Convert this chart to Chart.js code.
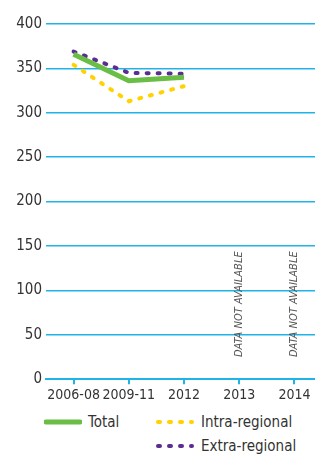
<!DOCTYPE html>
<html>
<head>
<meta charset="utf-8">
<script src="https://cdn.jsdelivr.net/npm/chart.js@4"></script>
<style>
    html, body { margin: 0; padding: 0; background: #fff; }
    body { width: 315px; height: 455px; overflow: hidden; position: relative;
           font-family: 'DejaVu Sans Condensed', 'Liberation Sans Narrow', sans-serif; color: #333; }
    #wrap { position: absolute; left: 0; top: 0; width: 322px; height: 410px; }
    .leg { position: absolute; font-size: 15px; line-height: 20px; display: flex; align-items: center; }
    .leg svg { margin-right: 6px; }
</style>
</head>
<body>
<div id="wrap"><canvas id="chart"></canvas></div>

<div class="leg" style="left:44px; top:412px;">
    <svg width="38" height="8"><line x1="2" y1="4" x2="36" y2="4" stroke="#6abd45" stroke-width="5" stroke-linecap="round"/></svg>Total
</div>
<div class="leg" style="left:155px; top:412px;">
    <svg width="40" height="8"><line x1="3" y1="4" x2="37" y2="4" stroke="#ffd200" stroke-width="4" stroke-linecap="round" stroke-dasharray="2 9"/></svg>Intra-regional
</div>
<div class="leg" style="left:155px; top:436px;">
    <svg width="40" height="8"><line x1="3" y1="4" x2="37" y2="4" stroke="#5c2d91" stroke-width="4" stroke-linecap="round" stroke-dasharray="2 9"/></svg>Extra-regional
</div>

<script>
// Data
const categories = ['2006-08', '2009-11', '2012', '2013', '2014'];
const totalValues = [366, 336, 340, null, null];
const intraValues = [354, 313, 330, null, null];
const extraValues = [369, 345, 344, null, null];
const yTicks = [0, 50, 100, 150, 200, 250, 300, 350, 400];
const notes = [null, null, null, 'DATA NOT AVAILABLE', 'DATA NOT AVAILABLE'];

const FONT = "'DejaVu Sans Condensed', 'Liberation Sans Narrow', sans-serif";
const GRID = '#1fb3e8';

// Draw rotated "not available" notes
const notesPlugin = {
    id: 'notes',
    afterDatasetsDraw(chart) {
        const ctx = chart.ctx;
        const x = chart.scales.x;
        const y = chart.scales.y;
        ctx.save();
        ctx.font = 'italic 11px ' + FONT;
        ctx.fillStyle = '#555';
        ctx.textAlign = 'left';
        ctx.textBaseline = 'middle';
        notes.forEach((note, i) => {
            if (!note) return;
            ctx.save();
            ctx.translate(x.getPixelForValue(i), y.getPixelForValue(25));
            ctx.rotate(-Math.PI / 2);
            ctx.fillText(note, 0, 0);
            ctx.restore();
        });
        ctx.restore();
    }
};

new Chart(document.getElementById('chart'), {
    type: 'line',
    data: {
        labels: categories,
        datasets: [
            {
                label: 'Total',
                data: totalValues,
                borderColor: '#6abd45',
                borderWidth: 5,
                pointRadius: 0,
                tension: 0
            },
            {
                label: 'Intra-regional',
                data: intraValues,
                borderColor: '#ffd200',
                borderWidth: 4,
                borderDash: [2, 9],
                borderCapStyle: 'round',
                pointRadius: 0,
                tension: 0
            },
            {
                label: 'Extra-regional',
                data: extraValues,
                borderColor: '#5c2d91',
                borderWidth: 4,
                borderDash: [2, 9],
                borderCapStyle: 'round',
                pointRadius: 0,
                tension: 0
            }
        ]
    },
    options: {
        responsive: true,
        maintainAspectRatio: false,
        animation: false,
        layout: { padding: { top: 24, right: 0, bottom: 3, left: 0 } },
        plugins: {
            legend: { display: false },
            tooltip: { enabled: false }
        },
        scales: {
            x: {
                offset: true,
                grid: {
                    offset: false,
                    drawOnChartArea: false,
                    drawTicks: true,
                    tickLength: 5,
                    color: GRID,
                    lineWidth: 2
                },
                border: { display: true, color: GRID, width: 2 },
                ticks: {
                    color: '#333',
                    padding: 3,
                    maxRotation: 0,
                    autoSkip: false,
                    font: { family: FONT, size: 14 }
                }
            },
            y: {
                min: 0,
                max: 400,
                afterFit: (scale) => { scale.width = 46; },
                afterBuildTicks: (scale) => { scale.ticks = yTicks.map(v => ({ value: v })); },
                grid: {
                    drawTicks: false,
                    color: GRID,
                    lineWidth: 1.5
                },
                border: { display: false },
                ticks: {
                    color: '#333',
                    padding: 4,
                    font: { family: FONT, size: 15 }
                }
            }
        }
    },
    plugins: [notesPlugin]
});
</script>
</body>
</html>
